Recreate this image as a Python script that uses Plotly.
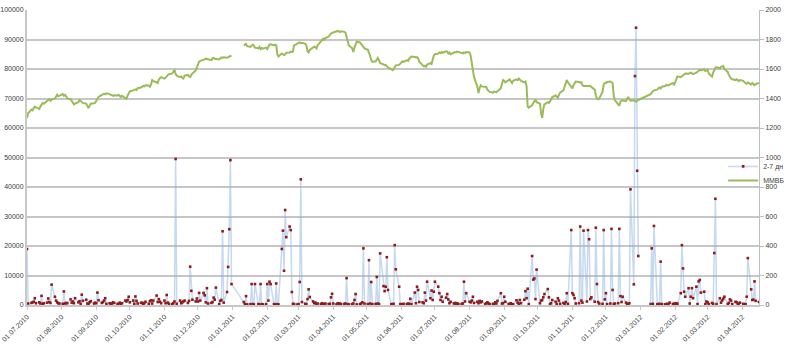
import pandas as pd
import plotly.graph_objects as go

# ---- trading days (x categories) ----
holidays = pd.date_range("2011-01-03", "2011-01-10").append(pd.date_range("2012-01-02", "2012-01-09"))
days = pd.bdate_range("2010-07-01", "2012-04-16")
days = days[~days.isin(holidays)]
dates = [d.strftime("%Y-%m-%d") for d in days]

x_start = "2010-07-01"
x_end = "2012-04-16"

# ---- series "2-7 дн" (left axis) ----
vol_2_7 = [
    # 2010-07
    19000, 500, 700, 900, 1100, 2300, 600, 900, 500, 3100, 400, 600, 800, 2200, 1000, 700, 6900, 2800, 1500, 900, 600, 500,
    # 2010-08
    400, 4600, 500, 700, 600, 1900, 800, 1200, 600, 2300, 900, 1300, 400, 3500, 1400, 1800, 500, 300, 900, 1300, 500, 800,
    # 2010-09
    600, 4200, 1600, 700, 1000, 1500, 2300, 400, 600, 300, 500, 900, 700, 300, 500, 800, 400, 600, 1500, 1200, 1700, 2800,
    # 2010-10
    900, 1500, 400, 2900, 1400, 500, 700, 800, 300, 600, 1100, 400, 1300, 1600, 500, 1500, 3200, 1000, 2000, 1100, 600,
    # 2010-11
    1500, 600, 3400, 800, 400, 300, 600, 1200, 49500, 400, 1500, 600, 900, 1200, 1500, 700, 1400, 13000, 4800, 1800, 1200, 2200,
    # 2010-12
    1200, 4100, 1500, 4100, 3300, 900, 5700, 500, 700, 1000, 2500, 1800, 5900, 300, 1400, 1700, 25000, 800, 4400, 12900, 25700, 49100, 7100,
    # 2011-01
    1000, 300, 3000, 200, 300, 7100, 300, 200, 7100, 300, 200, 7100, 300, 200, 300,
    # 2011-02
    7100, 1500, 7900, 7100, 300, 200, 7300, 300, 200, 19000, 25200, 11600, 32200, 23000, 26600, 25400, 4400, 400, 300, 200,
    # 2011-03
    300, 7800, 42600, 1000, 400, 300, 2000, 5300, 2700, 1200, 600, 800, 300, 500, 300, 600, 400, 200, 500, 300, 400, 2600, 3800,
    # 2011-04
    500, 200, 600, 300, 500, 300, 400, 500, 9100, 300, 200, 300, 500, 1700, 3700, 200, 300, 500, 900, 19200, 500,
    # 2011-05
    300, 15200, 500, 7800, 300, 400, 9500, 500, 300, 17500, 6400, 4700, 6200, 16200, 5100, 300, 200, 400, 20300, 12100, 6200, 300,
    # 2011-06
    300, 200, 400, 300, 500, 300, 2100, 300, 4200, 600, 6200, 5100, 1000, 900, 600, 4200, 1500, 7900, 2300, 4900, 1700, 4500,
    # 2011-07
    7900, 6200, 4000, 1700, 2800, 1100, 2500, 3700, 1900, 600, 1100, 500, 700, 400, 600, 300, 400, 500, 7900, 1200, 4000,
    # 2011-08
    1100, 900, 1500, 2800, 700, 1100, 600, 1400, 900, 1200, 300, 600, 900, 500, 300, 400, 300, 900, 500, 1400, 4000, 500, 600,
    # 2011-09
    2800, 1100, 300, 400, 600, 300, 200, 1600, 800, 400, 1700, 600, 1800, 4700, 2300, 5500, 300, 16600, 8600, 9000, 2000, 12000,
    # 2011-10
    600, 1500, 1700, 2600, 3700, 5400, 2600, 300, 600, 1700, 1100, 300, 2300, 1500, 400, 700, 300, 1000, 4000, 400, 25400,
    # 2011-11
    4000, 3400, 2300, 500, 600, 26600, 1500, 800, 25200, 1200, 25400, 22300, 2000, 2600, 1100, 26200, 7100, 1000, 500, 400, 25400, 1900,
    # 2011-12
    4000, 300, 500, 25800, 5100, 300, 500, 600, 25800, 3000, 1000, 2800, 800, 400, 300, 600, 39200, 7000, 77600, 94000, 45500, 16600,
    # 2012-01
    300, 19200, 400, 26800, 300, 200, 400, 14700, 300, 200, 300, 400, 200, 800, 300, 500,
    # 2012-02
    300, 600, 400, 4000, 20300, 12400, 4500, 2800, 5700, 500, 2800, 5700, 2300, 6200, 300, 8000, 8500, 4200, 4500, 300, 1200,
    # 2012-03
    900, 300, 700, 400, 17600, 36000, 300, 2300, 800, 1500, 2100, 2800, 300, 700, 1900, 1500, 300, 1100, 900, 300, 500, 800,
    # 2012-04
    400, 200, 300, 2800, 15900, 5300, 1700, 1800, 8000, 1400, 1000,
]

# ---- series "ММВБ" (right axis) ----
mmvb = [
    # 2010-07
    1268, 1300, 1325, 1320, 1335, 1345, 1340, 1330, 1345, 1360, 1370, 1365, 1380, 1390, 1395, 1385, 1392, 1400, 1410, 1425, 1415, 1420,
    # 2010-08
    1430, 1420, 1425, 1415, 1400, 1395, 1385, 1370, 1360, 1365, 1375, 1390, 1385, 1375, 1370, 1365, 1345, 1335, 1350, 1365, 1368, 1372,
    # 2010-09
    1385, 1400, 1410, 1425, 1430, 1432, 1428, 1435, 1430, 1425, 1420, 1418, 1422, 1420, 1425, 1415, 1410, 1418, 1405, 1398, 1420, 1440,
    # 2010-10
    1448, 1455, 1460, 1462, 1458, 1470, 1475, 1480, 1485, 1482, 1490, 1488, 1480, 1495, 1525, 1520, 1510, 1505, 1530, 1540, 1545,
    # 2010-11
    1535, 1540, 1550, 1560, 1565, 1570, 1585, 1595, 1565, 1555, 1545, 1550, 1540, 1535, 1555, 1560, 1550, 1545, 1560, 1570, 1590, 1615,
    # 2010-12
    1625, 1650, 1655, 1660, 1665, 1670, 1668, 1662, 1660, 1672, 1675, 1670, 1668, 1665, 1672, 1678, 1675, 1680, 1676, 1682, 1685, 1688, 1690,
    # 2011-01
    1760, 1765, 1770, 1755, 1750, 1760, 1765, 1758, 1745, 1740, 1750, 1735, 1742, 1738, 1745,
    # 2011-02
    1735, 1755, 1765, 1768, 1760, 1765, 1762, 1700, 1685, 1705, 1700, 1695, 1700, 1710, 1712, 1718, 1715, 1720, 1760, 1775,
    # 2011-03
    1778, 1780, 1775, 1778, 1770, 1760, 1720, 1712, 1730, 1745, 1752, 1748, 1740, 1760, 1785, 1800, 1805, 1798, 1810, 1820, 1835, 1840, 1845,
    # 2011-04
    1848, 1852, 1858, 1855, 1850, 1856, 1852, 1845, 1820, 1790, 1760, 1740, 1715, 1745, 1770, 1785, 1780, 1770, 1760, 1750, 1740,
    # 2011-05
    1730, 1715, 1690, 1660, 1648, 1652, 1670, 1675, 1660, 1640, 1632, 1625, 1628, 1620, 1610, 1600, 1592, 1598, 1610, 1625, 1628, 1640,
    # 2011-06
    1645, 1652, 1648, 1660, 1655, 1670, 1680, 1685, 1682, 1678, 1680, 1672, 1650, 1625, 1618, 1622, 1615, 1630, 1640, 1635, 1665, 1690,
    # 2011-07
    1700, 1705, 1712, 1708, 1715, 1710, 1720, 1718, 1705, 1712, 1700, 1708, 1715, 1712, 1718, 1716, 1710, 1706, 1712, 1708, 1715,
    # 2011-08
    1712, 1690, 1650, 1600, 1545, 1480, 1437, 1470, 1490, 1482, 1475, 1478, 1460, 1450, 1445, 1440, 1448, 1445, 1442, 1450, 1470, 1500, 1525,
    # 2011-09
    1520, 1510, 1525, 1530, 1515, 1505, 1520, 1530, 1525, 1535, 1528, 1520, 1510, 1515, 1485, 1345, 1338, 1355, 1370, 1385, 1392, 1375,
    # 2011-10
    1365, 1300, 1268, 1330, 1360, 1375, 1370, 1380, 1395, 1410, 1420, 1415, 1405, 1425, 1440, 1455, 1480, 1505, 1525, 1510, 1472,
    # 2011-11
    1468, 1490, 1505, 1515, 1512, 1508, 1510, 1490, 1485, 1487, 1486, 1484, 1485, 1478, 1460, 1420, 1400, 1395, 1400, 1445, 1495, 1505,
    # 2011-12
    1505, 1512, 1515, 1510, 1505, 1420, 1390, 1360, 1350, 1380, 1385, 1388, 1382, 1395, 1410, 1395, 1385, 1388, 1382, 1378, 1385, 1390,
    # 2012-01
    1430, 1445, 1450, 1455, 1460, 1470, 1475, 1468, 1480, 1485, 1492, 1490, 1488, 1495, 1505, 1490,
    # 2012-02
    1510, 1530, 1550, 1545, 1552, 1560, 1565, 1570, 1568, 1572, 1575, 1570, 1565, 1575, 1580, 1590, 1595, 1590, 1598, 1585, 1590,
    # 2012-03
    1595, 1570, 1548, 1575, 1600, 1610, 1612, 1605, 1615, 1618, 1620, 1600, 1580, 1560, 1545, 1535, 1530, 1525, 1530, 1522, 1518, 1525,
    # 2012-04
    1520, 1510, 1505, 1500, 1508, 1495, 1505, 1500, 1490, 1498, 1505,
]

if not (len(vol_2_7) == len(dates) == len(mmvb)):
    raise SystemExit(f"length mismatch: dates={len(dates)} vol={len(vol_2_7)} mmvb={len(mmvb)}")

# line breaks (empty cells) in each series
def with_break(xs, ys, after, gap_date):
    i = xs.index(after) + 1
    return xs[:i] + [gap_date] + xs[i:], ys[:i] + [None] + ys[i:]

vx, vy = with_break(dates, vol_2_7, "2011-12-30", "2012-01-05")
gx, gy = with_break(dates, mmvb, "2010-12-31", "2011-01-05")

FONT = "Liberation Sans, Arial, sans-serif"
TXT = "#404040"

fig = go.Figure()
fig.add_trace(go.Scatter(
    x=vx, y=vy, name="2-7 дн", mode="lines+markers",
    line=dict(color="rgba(141,179,226,0.5)", width=1.5),
    marker=dict(color="#8e1b1b", size=2.6, symbol="square"),
    yaxis="y", legend="legend",
))
fig.add_trace(go.Scatter(
    x=gx, y=gy, name="ММВБ", mode="lines",
    line=dict(color="#9bbb59", width=2),
    yaxis="y2", legend="legend2",
))

leg_common = dict(xanchor="left", yanchor="top", bgcolor="rgba(0,0,0,0)",
                  font=dict(size=7, color=TXT), borderwidth=0)

fig.update_layout(
    width=800, height=348,
    margin=dict(l=27, r=23, t=10, b=43),
    paper_bgcolor="white", plot_bgcolor="white",
    font=dict(family=FONT, size=7, color=TXT),
    showlegend=True,
    legend=dict(x=0.951, y=0.519, **leg_common),
    legend2=dict(x=0.951, y=0.471, **leg_common),
    xaxis=dict(
        type="date", range=[x_start, x_end], automargin=False,
        tick0="2010-07-01", dtick="M1", tickformat="%d.%m.%Y", tickangle=-45,
        showgrid=False, showline=True, linecolor="#c8c8c8", linewidth=2,
        ticks="outside", ticklen=3, tickcolor="#c8c8c8",
        tickfont=dict(size=7, color=TXT), zeroline=False,
    ),
    yaxis=dict(
        range=[0, 100000], dtick=10000, tickformat="d", automargin=False,
        showgrid=True, gridcolor="#c6c6c6", gridwidth=1.5,
        showline=True, linecolor="#c8c8c8", linewidth=2,
        ticks="", zeroline=False, tickfont=dict(size=7, color=TXT),
    ),
    yaxis2=dict(
        range=[0, 2000], dtick=200, tickformat="d", overlaying="y", side="right",
        automargin=False,
        showgrid=False, showline=True, linecolor="#bfbfbf", linewidth=1,
        ticks="outside", ticklen=4, tickcolor="#bfbfbf",
        zeroline=False, tickfont=dict(size=7, color=TXT),
    ),
)

fig.write_html("out.html")
